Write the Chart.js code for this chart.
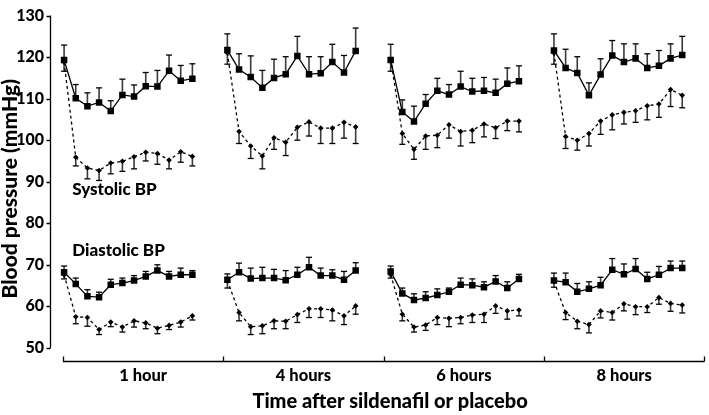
<!DOCTYPE html>
<html lang="en">
<head>
<meta charset="UTF-8">
<title>Blood pressure after sildenafil or placebo</title>
<script src="https://cdn.jsdelivr.net/npm/chart.js"></script>
<style>
  html, body { margin: 0; padding: 0; background: #fff; }
  #wrap { width: 709px; height: 415px; }
</style>
</head>
<body>
<div id="wrap"><canvas id="bpChart"></canvas></div>
<script>
const groupLabels = ['1 hour', '4 hours', '6 hours', '8 hours'];
const yTicks = [50, 60, 70, 80, 90, 100, 110, 120, 130];

// systolic, placebo (solid, squares) - one row per time group, 12 readings each
const sysPlacebo = [
  [119.3, 110.1, 108.2, 109.1, 107.0, 110.9, 110.5, 113.0, 112.9, 116.7, 114.3, 114.8],
  [121.7, 117.0, 115.2, 112.6, 115.0, 115.9, 120.3, 115.9, 116.1, 118.8, 116.3, 121.5],
  [119.3, 106.8, 104.5, 108.8, 111.9, 111.0, 112.9, 111.7, 111.9, 111.4, 113.6, 114.2],
  [121.6, 117.4, 116.2, 110.8, 115.8, 120.4, 118.8, 119.7, 117.4, 117.9, 119.7, 120.5]
];
const sysPlaceboErr = [
  [3.6, 3.3, 3.2, 3.5, 2.5, 3.8, 2.8, 3.3, 3.9, 3.8, 3.7, 3.6],
  [3.9, 3.8, 5.1, 4.2, 4.5, 4.2, 4.7, 4.2, 4.0, 4.3, 4.1, 5.5],
  [3.8, 2.9, 3.7, 2.2, 3.0, 2.4, 3.7, 3.2, 3.2, 3.3, 3.8, 3.7],
  [4.0, 4.5, 3.9, 3.0, 3.8, 3.6, 4.4, 3.5, 3.4, 3.7, 3.5, 4.5]
];
// systolic, sildenafil (dashed, diamonds) - error bars hang below
const sysSildenafil = [
  [118.8, 95.9, 93.3, 92.7, 94.5, 94.9, 96.0, 97.1, 96.8, 95.2, 97.2, 96.1],
  [121.0, 102.1, 98.6, 96.2, 100.6, 99.5, 103.1, 104.4, 102.9, 102.9, 104.3, 103.2],
  [119.5, 101.6, 97.8, 101.0, 101.2, 103.7, 102.1, 102.4, 103.9, 103.0, 104.6, 104.6],
  [121.0, 100.9, 100.0, 101.6, 104.6, 106.1, 106.7, 107.1, 108.3, 108.7, 112.2, 110.8]
];
const sysSildenafilErr = [
  [2.2, 2.1, 2.6, 2.4, 2.6, 2.4, 2.9, 2.1, 2.6, 2.1, 2.5, 2.3],
  [2.7, 2.9, 3.0, 3.1, 2.8, 3.2, 3.1, 3.4, 3.7, 3.7, 3.8, 4.0],
  [2.9, 2.6, 2.4, 3.2, 3.0, 3.2, 3.5, 3.0, 3.1, 2.6, 2.3, 2.6],
  [2.7, 2.9, 2.4, 3.0, 3.2, 3.6, 2.8, 2.8, 3.4, 3.2, 4.1, 3.0]
];

// diastolic, placebo
const diaPlacebo = [
  [68.2, 65.4, 62.4, 62.2, 65.2, 65.6, 66.2, 67.2, 68.6, 67.2, 67.6, 67.6],
  [66.4, 68.2, 66.7, 66.8, 66.8, 66.3, 67.6, 69.4, 67.4, 67.4, 66.4, 68.6],
  [68.4, 63.1, 61.5, 62.0, 62.7, 63.5, 65.2, 65.1, 64.6, 66.0, 64.4, 66.6],
  [66.2, 65.8, 63.5, 64.2, 65.1, 68.8, 67.7, 69.0, 66.6, 67.6, 69.2, 69.2]
];
const diaPlaceboErr = [
  [1.5, 1.4, 1.6, 1.2, 1.3, 1.2, 1.2, 1.2, 1.4, 1.2, 1.6, 1.0],
  [1.4, 2.2, 2.5, 2.6, 2.1, 2.3, 1.8, 2.4, 1.8, 1.4, 2.0, 1.9],
  [1.3, 1.3, 1.5, 1.5, 1.5, 0.9, 1.6, 1.5, 1.3, 1.4, 1.5, 1.1],
  [1.8, 2.2, 2.0, 1.7, 1.9, 2.7, 2.5, 2.5, 1.6, 2.0, 1.7, 1.7]
];
// diastolic, sildenafil
const diaSildenafil = [
  [67.6, 57.5, 57.3, 54.4, 56.2, 55.0, 56.5, 56.0, 54.7, 55.4, 56.2, 57.7],
  [66.2, 58.5, 55.1, 55.3, 56.5, 56.4, 58.0, 59.4, 59.4, 59.1, 57.7, 60.1],
  [67.6, 58.1, 55.0, 55.5, 57.3, 57.1, 57.3, 57.9, 58.1, 60.1, 58.9, 59.1],
  [66.0, 58.5, 56.4, 55.6, 58.9, 58.5, 60.6, 59.9, 59.9, 62.1, 60.7, 60.3]
];
const diaSildenafilErr = [
  [1.0, 1.7, 2.1, 1.2, 1.1, 1.2, 1.5, 1.4, 1.3, 1.0, 1.2, 1.0],
  [1.8, 2.0, 1.9, 1.9, 1.9, 1.8, 1.9, 2.1, 2.1, 2.6, 2.1, 2.0],
  [0.8, 1.6, 1.2, 1.3, 1.7, 2.0, 1.5, 1.8, 2.0, 1.8, 2.0, 1.4],
  [1.4, 1.7, 1.8, 2.0, 1.7, 1.8, 1.7, 1.9, 1.4, 1.6, 1.9, 1.9]
];

// x layout: reading i of group g sits at g*GROUP_STEP + i, groups split by gaps
const GROUP_STEP = 14;
const BOUND0 = -0.1, BOUND_W = 13.75;
const FONT = 'Lato, "DejaVu Sans", sans-serif';
const HEAVY = 900;

function toPoints(rows) {
  const pts = [];
  rows.forEach((row, g) => {
    row.forEach((v, i) => pts.push({ x: g * GROUP_STEP + i, y: v }));
    pts.push({ x: g * GROUP_STEP + row.length, y: null });
  });
  return pts;
}

function series(rows, errs, dir, dashed) {
  return {
    data: toPoints(rows),
    errors: errs.flatMap(r => [...r, null]),
    errDir: dir,
    borderColor: '#000',
    borderWidth: 1.3,
    borderDash: dashed ? [3, 3] : [],
    pointStyle: dashed ? 'rectRot' : 'rect',
    pointRadius: dashed ? 2.8 : 4.6,
    pointBackgroundColor: '#000',
    pointBorderWidth: 0,
    pointHoverRadius: dashed ? 2.8 : 4.6,
    tension: 0,
    spanGaps: false
  };
}

const errorBars = {
  id: 'errorBars',
  beforeDatasetsDraw(chart) {
    const { ctx } = chart;
    const y = chart.scales.y;
    chart.data.datasets.forEach((ds, di) => {
      const meta = chart.getDatasetMeta(di);
      meta.data.forEach((pt, i) => {
        const v = ds.data[i].y, e = ds.errors[i];
        if (v == null || e == null) return;
        const py0 = y.getPixelForValue(v);
        const py1 = y.getPixelForValue(v + ds.errDir * e);
        ctx.save();
        ctx.strokeStyle = '#3a3a3a';
        ctx.lineWidth = 1.6;
        ctx.beginPath();
        ctx.moveTo(pt.x, py0);
        ctx.lineTo(pt.x, py1);
        ctx.stroke();
        ctx.strokeStyle = '#000';
        ctx.lineWidth = 1.3;
        ctx.beginPath();
        ctx.moveTo(pt.x - 3, py1);
        ctx.lineTo(pt.x + 3, py1);
        ctx.stroke();
        ctx.restore();
      });
    });
  }
};

const axesAndNotes = {
  id: 'axesAndNotes',
  afterDraw(chart) {
    const { ctx, chartArea } = chart;
    const { x, y } = chart.scales;
    ctx.save();
    ctx.strokeStyle = '#000';
    ctx.lineWidth = 1.3;
    ctx.beginPath();
    const ax = Math.round(chartArea.left) + 0.5;
    ctx.moveTo(ax, y.getPixelForValue(yTicks[yTicks.length - 1]));
    ctx.lineTo(ax, y.getPixelForValue(yTicks[0]));
    yTicks.forEach(v => {
      const py = Math.round(y.getPixelForValue(v)) + 0.5;
      ctx.moveTo(ax - 4, py);
      ctx.lineTo(ax, py);
    });
    const ay = Math.round(chartArea.bottom) - 0.5;
    ctx.moveTo(x.getPixelForValue(BOUND0), ay);
    ctx.lineTo(x.getPixelForValue(BOUND0 + groupLabels.length * BOUND_W), ay);
    for (let g = 0; g <= groupLabels.length; g++) {
      const px = Math.round(x.getPixelForValue(BOUND0 + g * BOUND_W)) + 0.5;
      ctx.moveTo(px, ay);
      ctx.lineTo(px, ay - 5);
    }
    ctx.stroke();

    ctx.fillStyle = '#000';
    ctx.font = HEAVY + ' 17px ' + FONT;
    ctx.textAlign = 'left';
    ctx.textBaseline = 'middle';
    ctx.fillText('Systolic BP', x.getPixelForValue(0.7), y.getPixelForValue(88.1));
    ctx.fillText('Diastolic BP', x.getPixelForValue(0.7), y.getPixelForValue(73.4));

    // x-axis title, sitting a little right of the axis centre as in the source
    ctx.font = HEAVY + ' 20px ' + FONT;
    ctx.textAlign = 'center';
    ctx.fillText('Time after sildenafil or placebo', x.getPixelForValue(27.95), chartArea.bottom + 40);
    ctx.restore();
  }
};

new Chart(document.getElementById('bpChart'), {
  type: 'line',
  data: {
    datasets: [
      series(sysPlacebo, sysPlaceboErr, 1, false),
      series(sysSildenafil, sysSildenafilErr, -1, true),
      series(diaPlacebo, diaPlaceboErr, 1, false),
      series(diaSildenafil, diaSildenafilErr, -1, true)
    ]
  },
  options: {
    responsive: true,
    maintainAspectRatio: false,
    animation: false,
    layout: { padding: { left: 0, right: 0.7, top: 10, bottom: 0 } },
    plugins: { legend: { display: false }, tooltip: { enabled: false } },
    scales: {
      x: {
        type: 'linear',
        bounds: 'data',
        min: -1.208,
        max: 54.9,
        afterBuildTicks: s => {
          s.ticks = groupLabels.map((_, g) => ({ value: BOUND0 + BOUND_W * (g + 0.5) }));
        },
        afterFit: s => { s.height = 53; },
        grid: { display: false, drawTicks: false },
        border: { display: false },
        ticks: {
          autoSkip: false,
          maxRotation: 0,
          padding: 4,
          color: '#000',
          font: { family: FONT, size: 16.5, weight: HEAVY },
          callback: (v, i) => groupLabels[i]
        },
        title: { display: false }
      },
      y: {
        type: 'linear',
        bounds: 'data',
        min: 46.59,
        max: 130,
        afterBuildTicks: s => { s.ticks = yTicks.map(v => ({ value: v })); },
        afterFit: s => { s.width = 50; },
        grid: { display: false, drawTicks: false },
        border: { display: false },
        ticks: {
          padding: 6,
          color: '#000',
          font: { family: FONT, size: 16, weight: HEAVY }
        },
        title: {
          display: true,
          text: 'Blood pressure (mmHg)',
          color: '#000',
          font: { family: FONT, size: 21, weight: HEAVY, lineHeight: 1 },
          padding: 0
        }
      }
    }
  },
  plugins: [errorBars, axesAndNotes]
});
</script>
</body>
</html>
